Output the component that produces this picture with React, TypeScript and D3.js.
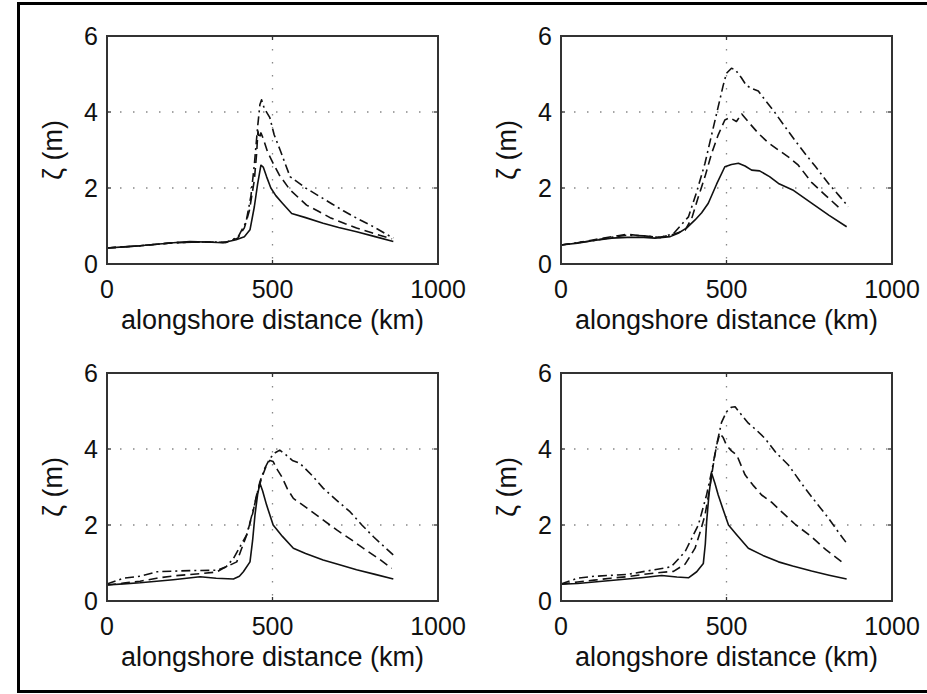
import React from "react";
import * as d3 from "d3";

type Pt = [number, number];

const xTicks = [0, 500, 1000];
const yTicks = [0, 2, 4, 6];
const xLabel = "alongshore distance (km)";
const yLabel = "ζ (m)";

// Panel (a) top-left
const aSolid: Pt[] = [[0,0.42],[50,0.45],[100,0.48],[150,0.52],[200,0.56],[250,0.59],[300,0.58],[350,0.56],[390,0.64],[415,0.72],[432,0.9],[445,1.5],[455,2.1],[465,2.6],[472,2.55],[482,2.3],[495,2.0],[510,1.8],[530,1.6],[558,1.33],[600,1.22],[653,1.07],[700,0.96],[754,0.85],[810,0.72],[865,0.59]];
const aDash: Pt[] = [[0,0.42],[100,0.48],[200,0.56],[300,0.58],[360,0.57],[395,0.68],[415,0.95],[430,1.4],[445,2.2],[452,2.9],[456,3.5],[460,3.3],[465,3.45],[472,3.3],[485,2.95],[502,2.65],[520,2.35],[553,1.95],[603,1.55],[640,1.38],[674,1.22],[720,1.06],[754,0.95],[800,0.82],[860,0.66]];
const aDashDot: Pt[] = [[0,0.42],[100,0.48],[200,0.56],[300,0.58],[360,0.57],[395,0.7],[420,1.1],[435,1.8],[445,2.6],[455,3.6],[462,4.2],[467,4.32],[475,4.1],[492,3.85],[505,3.4],[523,3.0],[553,2.3],[600,2.0],[644,1.77],[680,1.58],[714,1.4],[760,1.18],[805,0.98],[865,0.68]];

// Panel (b) top-right
const bSolid: Pt[] = [[0,0.5],[50,0.55],[100,0.62],[153,0.68],[200,0.7],[250,0.7],[284,0.68],[330,0.72],[354,0.81],[380,0.95],[405,1.16],[425,1.35],[445,1.6],[470,2.1],[495,2.56],[515,2.62],[536,2.65],[556,2.58],[576,2.47],[600,2.45],[630,2.3],[657,2.12],[700,1.95],[757,1.6],[810,1.28],[863,0.98]];
const bDash: Pt[] = [[0,0.5],[50,0.56],[100,0.64],[153,0.72],[200,0.78],[250,0.74],[300,0.7],[340,0.78],[375,0.89],[395,1.2],[415,1.77],[435,2.3],[455,2.91],[475,3.4],[495,3.79],[510,3.85],[530,3.75],[546,3.95],[570,3.7],[596,3.44],[625,3.2],[657,3.0],[690,2.8],[717,2.6],[757,2.15],[800,1.8],[848,1.42]];
const bDashDot: Pt[] = [[0,0.5],[50,0.56],[100,0.62],[153,0.7],[200,0.76],[250,0.74],[300,0.7],[340,0.8],[385,1.24],[410,1.9],[435,2.65],[455,3.4],[475,4.14],[490,4.7],[500,5.02],[515,5.15],[526,5.12],[545,4.9],[560,4.7],[576,4.62],[596,4.55],[616,4.32],[645,4.0],[677,3.61],[707,3.25],[737,2.91],[770,2.55],[808,2.12],[840,1.8],[868,1.51]];

// Panel (c) bottom-left
const cSolid: Pt[] = [[0,0.42],[50,0.45],[100,0.48],[150,0.52],[200,0.56],[281,0.64],[330,0.6],[382,0.58],[400,0.65],[412,0.77],[432,1.03],[440,1.6],[447,2.26],[455,2.8],[462,3.1],[470,2.9],[482,2.53],[502,2.0],[530,1.7],[563,1.39],[600,1.25],[653,1.08],[700,0.96],[754,0.82],[810,0.7],[865,0.58]];
const cDash: Pt[] = [[0,0.42],[50,0.47],[100,0.52],[150,0.6],[200,0.66],[281,0.72],[330,0.76],[351,0.86],[392,1.03],[422,1.74],[440,2.3],[452,2.79],[466,3.2],[482,3.58],[492,3.7],[502,3.67],[515,3.45],[528,3.27],[545,2.95],[563,2.7],[613,2.39],[650,2.15],[694,1.87],[740,1.6],[774,1.39],[820,1.12],[860,0.86]];
const cDashDot: Pt[] = [[0,0.45],[50,0.6],[100,0.65],[151,0.77],[250,0.8],[332,0.81],[360,0.9],[382,1.12],[422,1.74],[445,2.5],[462,3.14],[477,3.5],[492,3.75],[508,3.9],[522,3.97],[540,3.85],[560,3.7],[583,3.62],[620,3.3],[653,2.97],[694,2.65],[734,2.35],[770,2.0],[805,1.69],[835,1.45],[865,1.21]];

// Panel (d) bottom-right
const dSolid: Pt[] = [[0,0.44],[50,0.46],[100,0.5],[150,0.54],[200,0.58],[250,0.62],[304,0.67],[350,0.63],[385,0.61],[410,0.77],[430,0.99],[436,1.5],[440,2.09],[447,2.8],[455,3.36],[465,3.1],[475,2.79],[490,2.4],[506,2.0],[530,1.75],[566,1.39],[610,1.2],[657,1.03],[700,0.92],[757,0.79],[810,0.68],[863,0.58]];
const dDash: Pt[] = [[0,0.44],[50,0.5],[100,0.55],[150,0.6],[200,0.64],[250,0.7],[300,0.75],[340,0.78],[375,0.97],[405,1.39],[420,1.8],[435,2.26],[448,2.9],[460,3.58],[470,4.1],[480,4.41],[490,4.3],[500,4.1],[515,3.95],[531,3.84],[556,3.32],[580,3.05],[606,2.79],[636,2.6],[666,2.35],[710,2.0],[757,1.69],[800,1.35],[848,1.03]];
const dDashDot: Pt[] = [[0,0.45],[50,0.6],[100,0.65],[200,0.7],[280,0.82],[333,0.9],[375,1.3],[415,2.0],[440,2.8],[455,3.4],[470,4.1],[485,4.7],[500,4.98],[515,5.1],[526,5.11],[545,4.9],[566,4.68],[590,4.5],[616,4.28],[650,3.9],[687,3.58],[710,3.3],[737,2.97],[770,2.6],[808,2.18],[835,1.85],[863,1.52]];

const panels = [
  { col: 0, row: 0, series: [aSolid, aDash, aDashDot] },
  { col: 1, row: 0, series: [bSolid, bDash, bDashDot] },
  { col: 0, row: 1, series: [cSolid, cDash, cDashDot] },
  { col: 1, row: 1, series: [dSolid, dDash, dDashDot] },
];

const W = 927;
const H = 694;
const colX = [107, 561];
const rowY = [36, 373];
const PW = 331;
const PH = 228;
const dashStyles = ["none", "9,5", "9,4,2,4"];
const FONT = "'Liberation Sans', Arial, Helvetica, sans-serif";

function Panel({ col, row, series }: { col: number; row: number; series: Pt[][] }) {
  const x0 = colX[col];
  const y0 = rowY[row];
  const x = d3.scaleLinear().domain([0, 1000]).range([x0, x0 + PW]);
  const y = d3.scaleLinear().domain([0, 6]).range([y0 + PH, y0]);
  const line = d3
    .line<Pt>()
    .x((d) => x(d[0]))
    .y((d) => y(d[1]));
  const tl = 4;
  return (
    <g>
      {/* grid */}
      {xTicks.slice(1, -1).map((t) => (
        <line key={"gx" + t} x1={x(t)} x2={x(t)} y1={y0} y2={y0 + PH} stroke="#888" strokeWidth={1.3} strokeDasharray="1.5,11.5" />
      ))}
      {yTicks.slice(1, -1).map((t) => (
        <line key={"gy" + t} x1={x0} x2={x0 + PW} y1={y(t)} y2={y(t)} stroke="#888" strokeWidth={1.3} strokeDasharray="1.5,11.5" />
      ))}
      {/* curves */}
      {series.map((s, i) => (
        <path key={"s" + i} d={line(s) || ""} fill="none" stroke="#111" strokeWidth={1.6} strokeDasharray={dashStyles[i]} strokeLinejoin="round" />
      ))}
      {/* ticks */}
      {xTicks.map((t) => (
        <g key={"tx" + t}>
          <line x1={x(t)} x2={x(t)} y1={y0 + PH} y2={y0 + PH - tl} stroke="#333" strokeWidth={1.3} />
          <line x1={x(t)} x2={x(t)} y1={y0} y2={y0 + tl} stroke="#333" strokeWidth={1.3} />
          <text x={x(t)} y={y0 + PH + 34} textAnchor="middle" fontSize={25} fontFamily={FONT} fill="#111">
            {t}
          </text>
        </g>
      ))}
      {yTicks.map((t) => (
        <g key={"ty" + t}>
          <line x1={x0} x2={x0 + tl} y1={y(t)} y2={y(t)} stroke="#333" strokeWidth={1.3} />
          <line x1={x0 + PW} x2={x0 + PW - tl} y1={y(t)} y2={y(t)} stroke="#333" strokeWidth={1.3} />
          <text x={x0 - 9} y={y(t) + 9} textAnchor="end" fontSize={25} fontFamily={FONT} fill="#111">
            {t}
          </text>
        </g>
      ))}
      {/* box */}
      <rect x={x0} y={y0} width={PW} height={PH} fill="none" stroke="#333" strokeWidth={2} />
      {/* labels */}
      <text x={x0 + PW / 2} y={y0 + PH + 65} textAnchor="middle" fontSize={27} fontFamily={FONT} fill="#111">
        {xLabel}
      </text>
      <text
        transform={`translate(${x0 - 45},${y0 + PH / 2}) rotate(-90)`}
        textAnchor="middle"
        fontSize={27}
        fontFamily={FONT}
        fill="#111"
      >
        {yLabel}
      </text>
    </g>
  );
}

export default function App() {
  return (
    <svg width={W} height={H} style={{ position: "absolute", left: 0, top: 0, background: "#fff" }}>
      <rect x={0} y={0} width={W} height={H} fill="#fff" />
      <rect x={18.5} y={3.5} width={W + 20} height={688} fill="none" stroke="#000" strokeWidth={3} />
      {panels.map((p, i) => (
        <Panel key={i} col={p.col} row={p.row} series={p.series} />
      ))}
    </svg>
  );
}
